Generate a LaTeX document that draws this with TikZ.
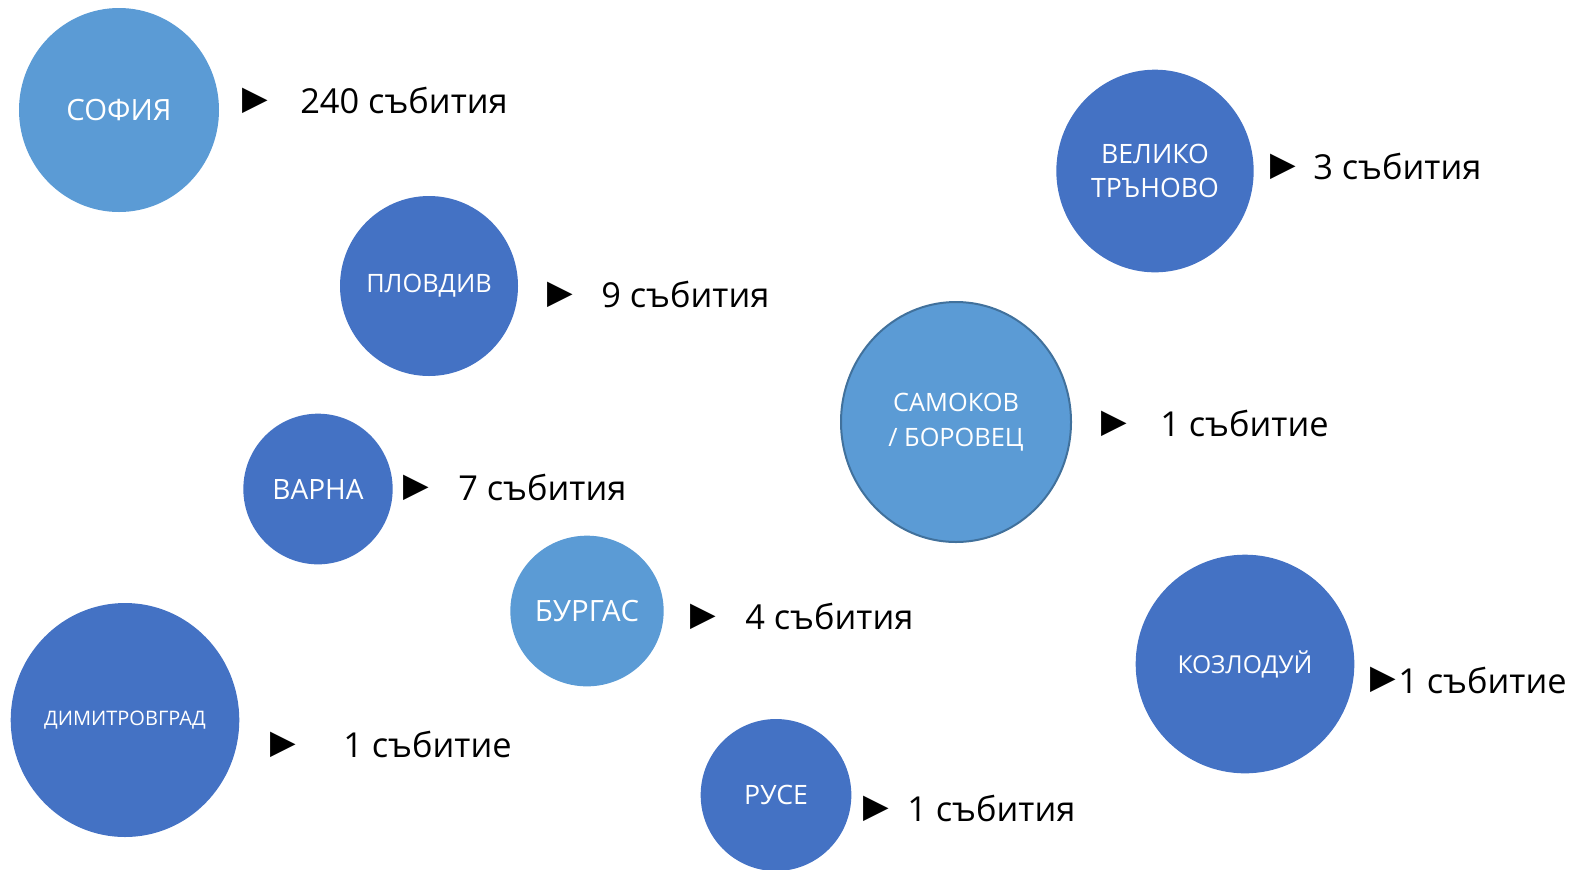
\documentclass[tikz,border=0pt]{standalone}
\usepackage{fontspec}
\setmainfont{Open Sans}
\newfontfamily\symfont{DejaVu Sans}
\usetikzlibrary{shapes.geometric}
\definecolor{lightblue}{HTML}{5B9BD5}
\definecolor{darkblue}{HTML}{4472C4}
\definecolor{rimblue}{HTML}{41719C}
\tikzset{
  city/.style = {ellipse, inner sep=0pt, align=center, text=white},
  city_l/.style = {city, fill=lightblue},% ville, cercle clair
  city_d/.style = {city, fill=darkblue},% ville, cercle fonce
  city_b/.style = {city_l, draw=rimblue, line width=1.5pt},% ville, cercle clair avec bord
  tri/.style = {inner sep=0pt, font=\symfont\fontsize{25}{25}\selectfont},% puce
  count/.style = {anchor=west, inner sep=0pt,
    font=\fontsize{25.8}{25.8}\selectfont}% nombre d'evenements
}

\begin{document}
\begin{tikzpicture}[x=0.75pt,y=-0.75pt]
\useasboundingbox (0,0) rectangle (1573,869);
\node [city_l, minimum width=150pt, minimum height=153pt,
  font=\fontsize{22}{22}\selectfont] (sofia) at (119,110) {СОФИЯ};
\node [tri] (sofia_t) at (255,101) {▶};
\node [count] (sofia_n) at (300,100) {240 събития};

\node [city_d, minimum width=133.5pt, minimum height=135pt,
  font=\fontsize{19}{19}\selectfont] (plovdiv) at (429,286) {ПЛОВДИВ};
\node [tri] (plovdiv_t) at (560,295) {▶};
\node [count] (plovdiv_n) at (601,294) {9 събития};

\node [city_d, minimum width=148pt, minimum height=152pt,
  font=\fontsize{20}{25}\selectfont] (veliko) at (1155,171) {ВЕЛИКО\\ТРЪНОВО};
\node [tri] (veliko_t) at (1283,167) {▶};
\node [count] (veliko_n) at (1313,166) {3 събития};

\node [city_b, minimum width=172.5pt, minimum height=180pt,
  font=\fontsize{19}{26}\selectfont] (samokov) at (956,422) {САМОКОВ\\/ БОРОВЕЦ};
\node [tri] (samokov_t) at (1114,424) {▶};
\node [count] (samokov_n) at (1160,423) {1 събитие};

\node [city_d, minimum width=112pt, minimum height=113pt,
  font=\fontsize{21}{21}\selectfont] (varna) at (318,489) {ВАРНА};
\node [tri] (varna_t) at (416,488) {▶};
\node [count] (varna_n) at (458,487) {7 събития};

\node [city_l, minimum width=115pt, minimum height=113pt,
  font=\fontsize{22}{22}\selectfont] (burgas) at (587,611) {БУРГАС};
\node [tri] (burgas_t) at (703,617) {▶};
\node [count] (burgas_n) at (745,616) {4 събития};

\node [city_d, minimum width=171pt, minimum height=175.5pt,
  font=\fontsize{15}{15}\selectfont] (dimitrovgrad) at (125,720) {ДИМИТРОВГРАД};
\node [tri] (dimitrovgrad_t) at (283,745) {▶};
\node [count] (dimitrovgrad_n) at (343,744) {1 събитие};

\node [city_d, minimum width=164pt, minimum height=164pt,
  font=\fontsize{18.5}{18.5}\selectfont] (kozloduy) at (1245,664) {КОЗЛОДУЙ};
\node [tri] (kozloduy_t) at (1383,680) {▶};
\node [count] (kozloduy_n) at (1398,680) {1 събитие};

\node [city_d, minimum width=113pt, minimum height=114pt,
  font=\fontsize{20}{20}\selectfont] (ruse) at (776,795) {РУСЕ};
\node [tri] (ruse_t) at (876,809) {▶};
\node [count] (ruse_n) at (907,808) {1 събития};
\end{tikzpicture}
\end{document}
